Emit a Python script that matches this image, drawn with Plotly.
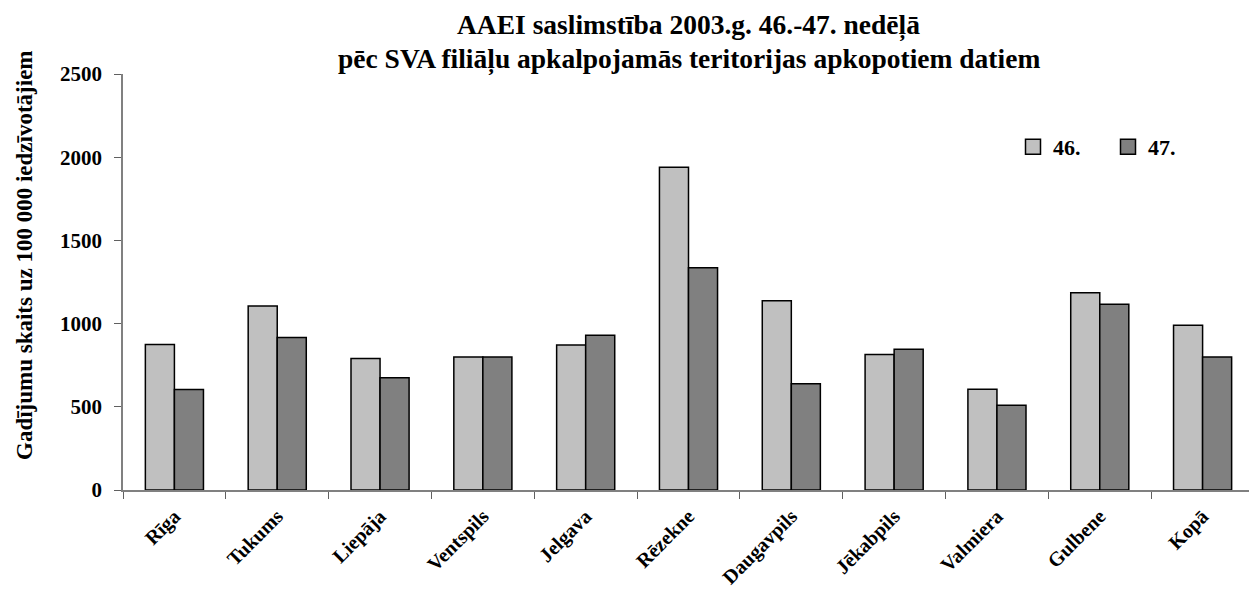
import plotly.graph_objects as go

categories = ["Rīga", "Tukums", "Liepāja", "Ventspils", "Jelgava", "Rēzekne",
              "Daugavpils", "Jēkabpils", "Valmiera", "Gulbene", "Kopā"]
week46 = [874, 1106, 790, 800, 872, 1940, 1138, 814, 606, 1186, 990]
week47 = [604, 916, 674, 800, 930, 1336, 638, 846, 510, 1116, 800]
series_names = ["46.", "47."]
y_ticks = [0, 500, 1000, 1500, 2000, 2500]
title_lines = ["AAEI saslimstība 2003.g. 46.-47. nedēļā",
               "pēc SVA filiāļu apkalpojamās teritorijas apkopotiem datiem"]
y_title = "Gadījumu skaits uz 100 000 iedzīvotājiem"

FONT = "Liberation Serif, Times New Roman, serif"
COLORS = ["#C0C0C0", "#808080"]

# page body has an 8px margin, so figure coords = screen coords - 8
W, H = 1249, 591
L, R, T, B = 115, 3, 66, 109
plot_w = W - L - R
plot_h = H - T - B

fig = go.Figure()
for vals, name, col in zip([week46, week47], series_names, COLORS):
    fig.add_trace(go.Bar(x=categories, y=vals, name=name, showlegend=False,
                         marker=dict(color=col, line=dict(color="black", width=1.5))))
# legend entries (two separate legends so boxes can be spaced like the reference)
for name, col, lg in zip(series_names, COLORS, ["legend", "legend2"]):
    fig.add_trace(go.Scatter(x=[None], y=[None], mode="markers", name=name,
                             legend=lg, showlegend=True,
                             marker=dict(symbol="square", size=15, color=col,
                                         line=dict(color="black", width=1.5))))

leg_y = 1 - (139 - T) / plot_h
def leg(xpx):
    return dict(orientation="h", x=(xpx - L) / plot_w, y=leg_y,
                xanchor="left", yanchor="middle",
                font=dict(size=22, family=FONT, color="black", weight="bold"),
                bgcolor="rgba(0,0,0,0)", itemwidth=30)

fig.update_layout(
    width=W, height=H,
    margin=dict(l=L, r=R, t=T, b=B, autoexpand=False),
    paper_bgcolor="white", plot_bgcolor="white",
    barmode="group", bargap=0.435, bargroupgap=0,
    font=dict(family=FONT, color="black"),
    showlegend=True,
    legend=leg(1005),
    legend2=leg(1100),
)
for line, py in zip(title_lines, [17, 51]):
    fig.add_annotation(text="<b>" + line + "</b>", x=0.5, xref="paper",
                       y=(H - B - py) / plot_h, yref="paper", yanchor="middle",
                       showarrow=False, font=dict(size=27.5, family=FONT))
# rotated y-axis title
fig.add_annotation(text="<b>" + y_title + "</b>", textangle=-90,
                   x=(16 - L) / plot_w, xref="paper", xanchor="center",
                   y=(H - B - 247) / plot_h, yref="paper", yanchor="middle",
                   showarrow=False, font=dict(size=23, family=FONT))

fig.update_xaxes(
    type="category", tickson="boundaries", ticks="outside", ticklen=7,
    tickcolor="#606060", showline=True, linecolor="#808080", linewidth=1.5,
    tickangle=-45, tickfont=dict(size=20, family=FONT, weight="bold"),
    ticklabelstandoff=5, showgrid=False,
)
fig.update_yaxes(
    range=[0, 2500], tickvals=y_ticks, ticks="outside", ticklen=7,
    tickcolor="#606060", showline=True, linecolor="#808080", linewidth=1.5,
    tickfont=dict(size=21, family=FONT, weight="bold"), showgrid=False,
    zeroline=False, ticklabelstandoff=8,
)

fig.write_html("out.html")
